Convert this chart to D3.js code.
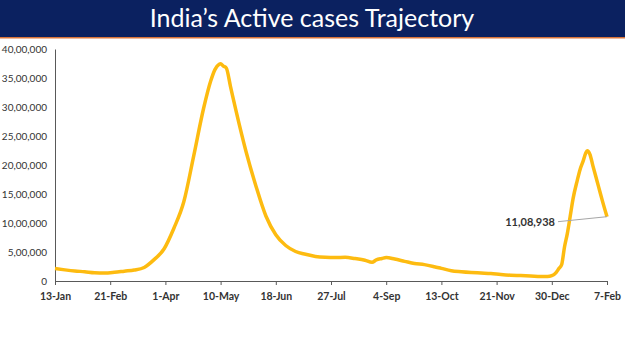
<!DOCTYPE html>
<html>
<head>
<meta charset="utf-8">
<script src="https://cdn.jsdelivr.net/npm/d3@7"></script>
<style>
  body { margin: 0; background: #fff; }
  svg text { font-family: Lato, "DejaVu Sans", sans-serif; }
</style>
</head>
<body>
<div id="chart"></div>
<script>
// active cases (dd-mm-yyyy)
var dates = [
  "13-01-2021","20-01-2021","27-01-2021","03-02-2021","10-02-2021","17-02-2021",
  "24-02-2021","03-03-2021","10-03-2021","17-03-2021","24-03-2021","31-03-2021",
  "07-04-2021","14-04-2021","21-04-2021","28-04-2021","03-05-2021","06-05-2021",
  "09-05-2021","10-05-2021","12-05-2021","14-05-2021","17-05-2021","21-05-2021",
  "28-05-2021","04-06-2021","11-06-2021","18-06-2021","25-06-2021","02-07-2021",
  "09-07-2021","16-07-2021","23-07-2021","30-07-2021","06-08-2021","13-08-2021",
  "20-08-2021","25-08-2021","28-08-2021","01-09-2021","04-09-2021","10-09-2021",
  "17-09-2021","24-09-2021","01-10-2021","08-10-2021","13-10-2021","20-10-2021",
  "27-10-2021","03-11-2021","10-11-2021","17-11-2021","24-11-2021","01-12-2021",
  "08-12-2021","15-12-2021","22-12-2021","27-12-2021","30-12-2021","02-01-2022",
  "04-01-2022","06-01-2022","08-01-2022","10-01-2022","12-01-2022","14-01-2022",
  "17-01-2022","19-01-2022","21-01-2022","23-01-2022","24-01-2022","26-01-2022",
  "28-01-2022","31-01-2022","02-02-2022","04-02-2022","07-02-2022"
];
var activeCases = [
  214000,192000,173000,160000,143000,139000,
  151000,170000,189000,234000,368000,552000,
  910000,1365000,2157000,2978000,3447000,3645000,
  3736000,3745000,3704000,3673000,3353000,2923000,
  2228000,1635000,1121000,798000,612000,509000,
  460000,423000,408000,404000,408000,387000,
  358000,322000,364000,389000,405000,378000,
  339000,301000,282000,247000,218000,178000,
  161000,148000,138000,128000,112000,100000,
  94000,87000,78000,77000,91000,145000,
  214000,285000,590000,821000,1117000,1417000,
  1736000,1924000,2058000,2207000,2246000,2180000,
  1990000,1720000,1540000,1360000,1108938
];
var tickDates = ["13-01-2021","21-02-2021","01-04-2021","10-05-2021","18-06-2021",
  "27-07-2021","04-09-2021","13-10-2021","21-11-2021","30-12-2021","07-02-2022"];
var yTicks = [0,500000,1000000,1500000,2000000,2500000,3000000,3500000,4000000];
var titleText = "India\u2019s Active cases Trajectory";

var parse = d3.timeParse("%d-%m-%Y");
var data = dates.map(function (d, i) { return {date: parse(d), value: activeCases[i]}; });

var width = 625, height = 351,
    margins = {top: 49, left: 55, right: 18, bottom: 70};

// indian digit grouping: 37,45,000
function formatIN(n) {
  var s = String(Math.round(n));
  if (s.length <= 3) return s;
  var last3 = s.slice(-3), rest = s.slice(0, -3);
  return rest.replace(/\B(?=(\d{2})+(?!\d))/g, ",") + "," + last3;
}

var svg = d3.select("#chart").append("svg")
    .attr("width", width)
    .attr("height", height);

// header band
svg.append("rect").attr("x", 0).attr("y", 0).attr("width", width).attr("height", 37)
    .attr("fill", "#0b2160");
svg.append("rect").attr("x", 0).attr("y", 37).attr("width", width).attr("height", 1.5)
    .attr("fill", "#d9743a");
svg.append("text")
    .attr("x", 312).attr("y", 27)
    .attr("text-anchor", "middle")
    .attr("fill", "#fff")
    .attr("font-size", 25)
    .text(titleText);

var x = d3.scaleTime()
    .domain([parse(tickDates[0]), parse(tickDates[tickDates.length - 1])])
    .range([margins.left, width - margins.right]);
var y = d3.scaleLinear()
    .domain([0, 4000000])
    .range([height - margins.bottom, margins.top]);

var xAxis = d3.axisBottom(x)
    .tickValues(tickDates.map(parse))
    .tickFormat(d3.timeFormat("%-d-%b"))
    .tickSize(4).tickSizeOuter(0);

var xg = svg.append("g")
    .attr("transform", "translate(0," + y(0) + ")")
    .call(xAxis);
xg.select(".domain").attr("stroke", "#595959");
xg.selectAll(".tick line").attr("stroke", "#595959");
xg.selectAll(".tick text")
    .attr("dy", "1.1em")
    .attr("font-size", 10.5)
    .attr("font-weight", "bold")
    .attr("fill", "#333");

var yAxis = d3.axisLeft(y)
    .tickValues(yTicks)
    .tickFormat(formatIN)
    .tickSize(0).tickSizeOuter(0)
    .tickPadding(8);

var yg = svg.append("g")
    .attr("transform", "translate(" + margins.left + ",0)")
    .call(yAxis);
yg.select(".domain").attr("stroke", "#595959");
yg.selectAll(".tick text")
    .attr("font-size", 10)
    .attr("fill", "#333");

var line = d3.line()
    .x(function (d) { return x(d.date); })
    .y(function (d) { return y(d.value); })
    .curve(d3.curveMonotoneX);

svg.append("path")
    .datum(data)
    .attr("fill", "none")
    .attr("stroke", "#fdbb10")
    .attr("stroke-width", 3.5)
    .attr("stroke-linejoin", "round")
    .attr("d", line);

// label on the last point
var last = data[data.length - 1];
svg.append("line")
    .attr("x1", 558).attr("y1", y(last.value) + 5)
    .attr("x2", x(last.date)).attr("y2", y(last.value))
    .attr("stroke", "#a6a6a6")
    .attr("stroke-width", 1);
svg.append("text")
    .attr("x", 555).attr("y", y(last.value) + 9)
    .attr("text-anchor", "end")
    .attr("font-size", 11)
    .attr("font-weight", "bold")
    .attr("fill", "#333")
    .text(formatIN(last.value));
</script>
</body>
</html>
